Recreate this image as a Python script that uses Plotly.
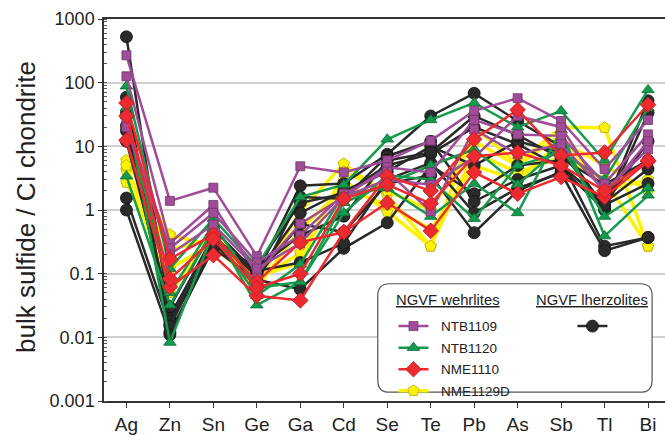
import plotly.graph_objects as go

elements = ["Ag", "Zn", "Sn", "Ge", "Ga", "Cd", "Se", "Te", "Pb", "As", "Sb", "Tl", "Bi"]
y_tick_vals = [0.001, 0.01, 0.1, 1, 10, 100, 1000]
y_tick_text = ["0.001", "0.01", "0.1", "1", "10", "100", "1000"]

# NGVF lherzolites (black)
lherzolites = [
    [525, 0.022, 0.35, 0.10, 2.4, 2.6, 7.5, 30, 68, 25, 10, 1.1, 52],
    [59, 0.016, 0.30, 0.13, 1.3, 1.8, 5.0, 7.6, 20, 10.8, 4.7, 1.0, 33.5],
    [33.5, 0.012, 0.25, 0.08, 0.057, 0.25, 0.63, 5.0, 1.8, 5.0, 6.0, 0.27, 0.37],
    [21, 0.020, 0.40, 0.09, 0.6, 0.45, 2.6, 3.5, 0.44, 2.0, 4.0, 1.2, 12],
    [17.6, 0.018, 0.30, 0.07, 1.6, 1.5, 7.0, 12, 1.36, 3.0, 5.0, 1.3, 4.4],
    [12, 0.030, 0.50, 0.10, 0.9, 2.0, 4.0, 10, 5.0, 12, 8.0, 1.2, 2.6],
    [1.54, 0.015, 0.32, 0.11, 0.15, 0.30, 3.0, 5.5, 0.9, 2.2, 3.8, 0.23, 0.37],
    [1.0, 0.011, 0.28, 0.12, 0.4, 0.8, 6.0, 8.0, 30, 15, 6.5, 2.5, 6.0],
]
# NTB1109 (purple)
ntb1109 = [
    [269, 1.39, 2.24, 0.188, 4.86, 3.9, 6.0, 12.3, 36, 57, 25, 4.4, 26],
    [126, 0.30, 1.20, 0.10, 0.61, 1.6, 4.7, 3.9, 26, 15.4, 14.6, 2.6, 15.4],
    [23.5, 0.25, 0.90, 0.15, 0.40, 1.8, 4.0, 0.95, 18.4, 7.5, 10.8, 2.0, 9.0],
    [20, 0.20, 0.59, 0.12, 0.30, 1.6, 3.0, 2.5, 6.7, 30, 20, 1.8, 12],
]
# NTB1120 (green)
ntb1120 = [
    [88, 0.12, 0.73, 0.13, 1.6, 2.5, 12.9, 26, 48, 20, 36, 6.0, 77],
    [3.4, 0.032, 0.50, 0.032, 0.074, 1.3, 2.6, 5.0, 9.0, 2.5, 10, 0.79, 2.2],
    [40, 0.0083, 0.45, 0.045, 0.14, 1.8, 2.2, 0.79, 2.6, 0.9, 18, 0.39, 1.7],
    [30, 0.05, 0.60, 0.06, 0.074, 0.9, 3.5, 3.0, 0.73, 5.0, 8.0, 3.0, 40],
]
# NME1110 (red)
nme1110 = [
    [48, 0.17, 0.41, 0.074, 0.31, 0.45, 3.4, 2.0, 12.9, 37.5, 7.2, 8.0, 45],
    [12.5, 0.062, 0.195, 0.045, 0.038, 0.45, 1.3, 0.47, 3.9, 1.8, 3.3, 1.6, 5.8],
    [30, 0.083, 0.35, 0.06, 0.10, 1.5, 2.5, 1.26, 7.0, 8.0, 5.0, 2.0, 6.0],
]
# NME1129D (yellow)
nme1129d = [
    [6.0, 0.41, 0.27, 0.07, 0.95, 5.3, 1.7, 0.27, 20, 5.3, 20, 19.6, 0.27],
    [4.2, 0.24, 0.35, 0.08, 0.21, 2.9, 0.95, 0.27, 8.0, 3.9, 6.7, 3.0, 0.27],
    [2.7, 0.12, 0.30, 0.06, 0.50, 2.2, 1.2, 0.50, 5.0, 2.9, 12, 5.0, 2.0],
    [5.0, 0.05, 0.40, 0.09, 0.15, 4.0, 2.0, 1.0, 12, 5.0, 15, 2.0, 3.0],
]

groups = [
    # name, data, line color, fill, outline, symbol, size, width, legend, rank
    ("NME1129D", nme1129d, "#FFF200", "#FFF200", "#B5A600", "pentagon", 12, 3.5, "legend", 4),
    ("lherz", lherzolites, "#2A2A2A", "#2A2A2A", "#111111", "circle", 12, 2.5, "legend2", 5),
    ("NTB1120", ntb1120, "#189A4C", "#129A4E", "#0B6B34", "triangle-up", 11, 2.5, "legend", 2),
    ("NTB1109", ntb1109, "#A04C98", "#A04C98", "#6E3A6A", "square", 9, 2.5, "legend", 1),
    ("NME1110", nme1110, "#EC2A30", "#EC2A30", "#B01E22", "diamond", 12, 2.5, "legend", 3),
]

fig = go.Figure()
for name, data, lc, fc, oc, sym, size, lw, leg, rank in groups:
    for i, vals in enumerate(data):
        fig.add_trace(go.Scatter(
            x=elements, y=vals, mode="lines+markers",
            name=(" " if name == "lherz" else "\u00a0\u00a0" + name),
            legendgroup=name, showlegend=(i == 0), legend=leg, legendrank=rank,
            line=dict(color=lc, width=lw),
            marker=dict(symbol=sym, size=size, color=fc, line=dict(color=oc, width=0.8)),
        ))

# rounded legend box
x0, x1, y0, y1 = 0.488, 0.977, 0.023, 0.307
rx, ry = 12 / 561, 12 / 388
path = (f"M {x0+rx},{y0} L {x1-rx},{y0} Q {x1},{y0} {x1},{y0+ry} "
        f"L {x1},{y1-ry} Q {x1},{y1} {x1-rx},{y1} L {x0+rx},{y1} "
        f"Q {x0},{y1} {x0},{y1-ry} L {x0},{y0+ry} Q {x0},{y0} {x0+rx},{y0} Z")
fig.add_shape(type="path", path=path, xref="paper", yref="paper",
              line=dict(color="#555555", width=1.2), fillcolor="white", layer="above")

font = "Liberation Sans, Arial, sans-serif"
fig.update_layout(
    width=665, height=435,
    margin=dict(l=104, r=0, t=19, b=28),
    paper_bgcolor="white", plot_bgcolor="white",
    font=dict(family=font, color="#222222"),
    xaxis=dict(
        type="category", range=[-0.516, 12.39],
        showline=True, linecolor="#333333", linewidth=1.5, mirror=True,
        ticks="outside", ticklen=5, tickcolor="#333333", tickwidth=1,
        tickfont=dict(size=19, family=font, color="#222222"),
        showgrid=False, zeroline=False,
    ),
    yaxis=dict(
        type="log", range=[-3, 3],
        tickvals=y_tick_vals, ticktext=y_tick_text,
        showline=True, linecolor="#333333", linewidth=1.5,
        ticks="outside", ticklen=4, tickcolor="#333333",
        tickfont=dict(size=18, family=font, color="#222222"),
        showgrid=True, gridcolor="#CFCFCF", gridwidth=1.5,
        minor=dict(ticks="inside", ticklen=3, tickcolor="#555555", showgrid=False, dtick="D1"),
        zeroline=False,
    ),
    legend=dict(x=0.516, y=0.236, xanchor="left", yanchor="top",
                bgcolor="rgba(0,0,0,0)", borderwidth=0,
                font=dict(size=13.5, family=font, color="#222222"),
                traceorder="grouped", tracegroupgap=1, itemwidth=30),
    legend2=dict(x=0.835, y=0.236, xanchor="left", yanchor="top",
                 bgcolor="rgba(0,0,0,0)", borderwidth=0,
                 font=dict(size=13.5, family=font, color="#222222"), itemwidth=30),
    annotations=[
        dict(text="bulk sulfide / CI chondrite", textangle=-90, xref="paper", yref="paper",
             x=0, y=0.508, xshift=-78, xanchor="center", yanchor="middle", showarrow=False,
             font=dict(size=26, family=font, color="#222222")),
        dict(text="<u>NGVF wehrlites</u>", xref="paper", yref="paper",
             x=(394 - 104) / 561, y=(407 - 304) / 388, xanchor="left", yanchor="middle",
             showarrow=False, font=dict(size=14.8, family=font, color="#222222")),
        dict(text="<u>NGVF lherzolites</u>", xref="paper", yref="paper",
             x=(534 - 104) / 561, y=(407 - 304) / 388, xanchor="left", yanchor="middle",
             showarrow=False, font=dict(size=14.8, family=font, color="#222222")),
    ],
)

fig.write_html("out.html")
